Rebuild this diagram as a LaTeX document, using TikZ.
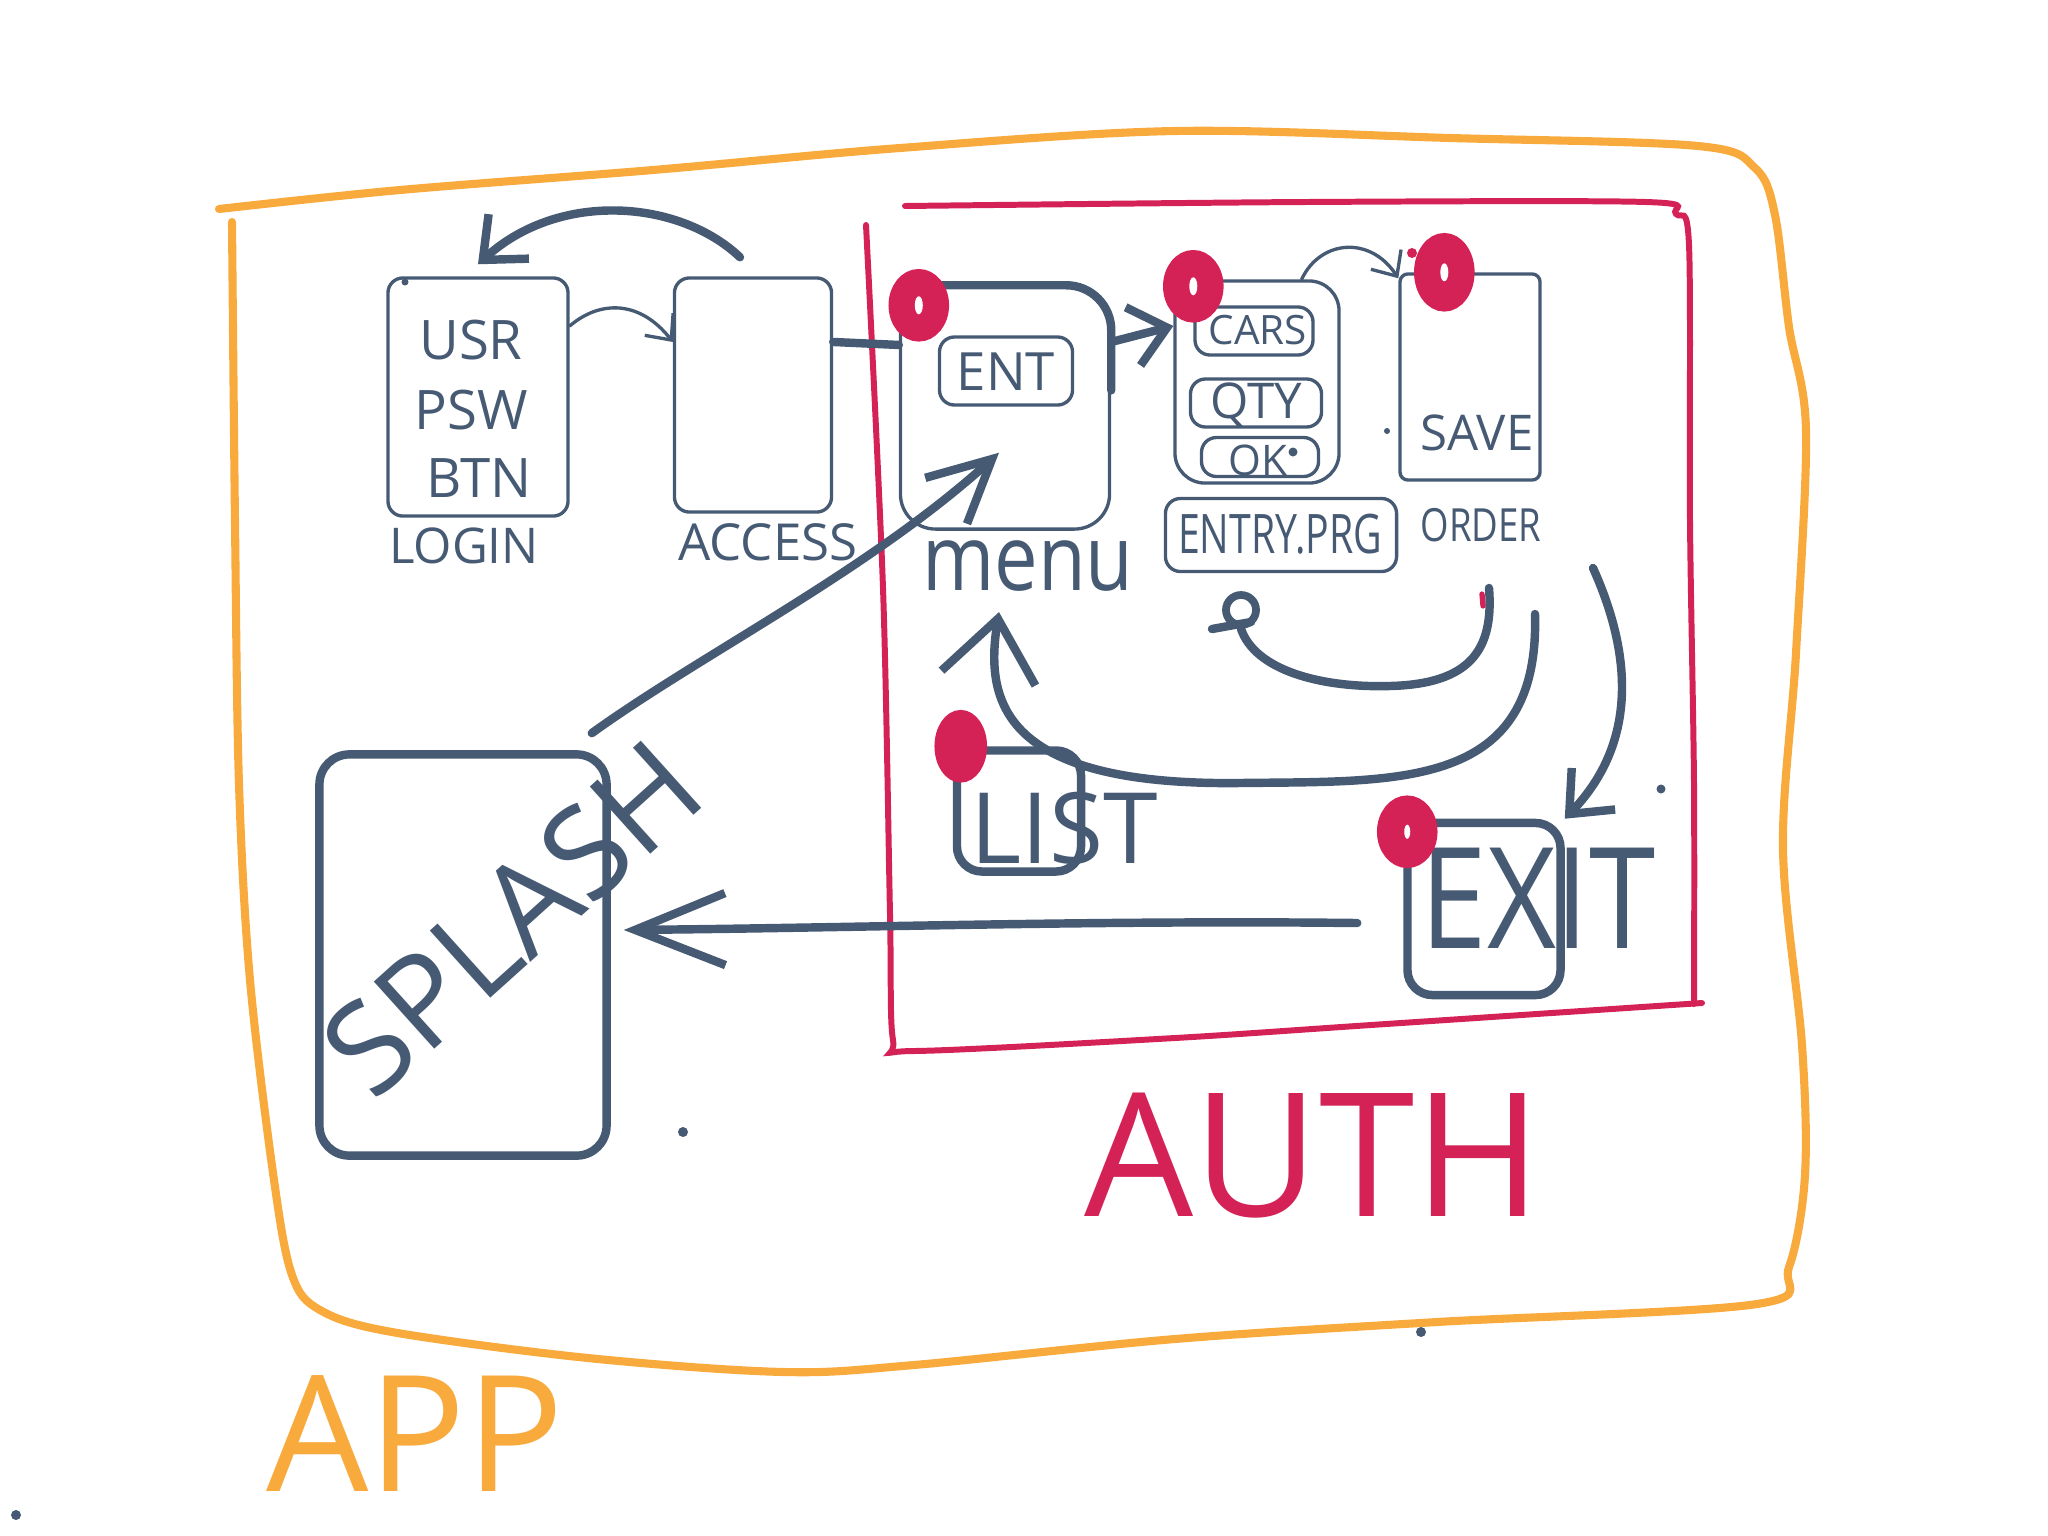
\documentclass[tikz,border=0pt]{standalone}
\usepackage{fontspec}
\setmainfont{Open Sans}
\usetikzlibrary{arrows.meta,shapes.geometric}
\definecolor{ink}{HTML}{465A74}
\definecolor{authred}{HTML}{D42257}
\definecolor{apporange}{HTML}{F8AA3C}
\newcommand\skfs[1]{\fontsize{#1}{#1}\selectfont}
\begin{document}
\begin{tikzpicture}[x=0.01cm,y=-0.01cm,
  thinbox/.style={draw=ink, line width=0.95pt, rounded corners=0.15cm, inner sep=0pt},
  thickbox/.style={draw=ink, line width=2.4pt, rounded corners=0.25cm, inner sep=0pt},
  lbl/.style={text=ink, inner sep=0pt},
  thinline/.style={draw=ink, line width=0.95pt, line cap=round},
  thickline/.style={draw=ink, line width=2.4pt, line cap=round},
  thinarrow/.style={thinline, -{Straight Barb[length=0.2cm,width=0.36cm]}},
  thickarrow/.style={thickline, -{Straight Barb[length=0.35cm,width=0.6cm]}},
  bigarrow/.style={thickline, -{Straight Barb[length=0.6cm,width=0.95cm]}},
  longarrow/.style={thickline, -{Straight Barb[length=0.9cm,width=0.72cm]}},
  midarrow/.style={thickline, -{Straight Barb[length=0.62cm,width=0.62cm]}},
  marker/.style={ellipse, draw=authred, fill=authred, line width=3pt, minimum width=0.5cm, minimum height=0.62cm, inner sep=0pt},
  dot/.style={fill=ink}
]
\useasboundingbox (0,0) rectangle (2048,1536);

% APP frame
\draw[apporange, line width=2.3pt, line cap=round, line join=round] plot[smooth, tension=0.55] coordinates {(219,209) (400,190) (653,170) (900,148) (1175,131) (1450,138) (1698,146) (1755,168) (1775,215) (1789,327) (1806,431) (1796,653) (1783,849) (1802,1045) (1805,1175) (1789,1267) (1757,1304) (1437,1322) (1175,1339) (914,1365) (784,1372) (588,1358) (392,1332) (320,1310) (292,1275) (274,1180) (250,980) (239,784) (235,522) (232,222)};
\node[text=apporange, inner sep=0pt, font=\skfs{46}] (applbl) at (415,1434) {APP};

% AUTH frame
\draw[authred, line width=1.7pt, line cap=round] plot[smooth, tension=0.5] coordinates {(905,206) (1306,202) (1646,202) (1676,214) (1689,245) (1690,522) (1694,784) (1694,1004)};
\draw[authred, line width=1.7pt, line cap=round] plot[smooth, tension=0.5] coordinates {(1702,1003) (1371,1025) (1175,1038) (914,1051) (893,1040) (890,914) (883,588) (866,225)};
\node[text=authred, inner sep=0pt, font=\skfs{49}] (authlbl) at (1313,1156) {AUTH};

% LOGIN
\node[thinbox, minimum width=1.80cm, minimum height=2.38cm] (login) at (478,397) {};
\node[lbl, font=\skfs{15.5}] (usr) at (471,340) {USR};
\node[lbl, font=\skfs{15.5}] (psw) at (471,410) {PSW};
\node[lbl, font=\skfs{15.5}] (btn) at (479,478) {BTN};
\node[lbl, font=\skfs{14}] (loginlbl) at (464,546) {LOGIN};

% ACCESS
\node[thinbox, minimum width=1.57cm, minimum height=2.34cm] (access) at (753,395) {};
\node[lbl, font=\skfs{14.5}] (accesslbl) at (768,542) {ACCESS};

% MENU
\node[thinbox, rounded corners=0.35cm, minimum width=2.09cm, minimum height=2.42cm] (menu) at (1005,408) {};
\draw[thickline, rounded corners=0.45cm] ([xshift=0.15cm]menu.north west) -- (menu.north east) -- ([yshift=-1.05cm]menu.north east);
\node[thinbox, minimum width=1.33cm, minimum height=0.68cm] (ent) at (1006,371) {};
\node[lbl, font=\skfs{15}] (enttxt) at (1006,372) {ENT};
\node[lbl, font=\skfs{26}] (menulbl) at (1028,566) {\scalebox{0.85}[1]{menu}};

% ENTRY.PRG
\node[thinbox, rounded corners=0.3cm, minimum width=1.64cm, minimum height=2.02cm] (entry) at (1257,382) {};
\node[thinbox, minimum width=1.18cm, minimum height=0.48cm] (cars) at (1254,331) {};
\node[lbl, font=\skfs{11.5}] (carstxt) at (1258,330) {CARS};
\node[thinbox, minimum width=1.31cm, minimum height=0.48cm] (qty) at (1256,403) {};
\node[lbl, font=\skfs{14}] (qtytxt) at (1256,405) {QTY};
\node[thinbox, minimum width=1.17cm, minimum height=0.39cm] (ok) at (1260,457) {};
\node[lbl, font=\skfs{12}] (oktxt) at (1258,460) {OK};
\fill[dot] (1293,452) circle (0.045cm);
\node[thinbox, minimum width=2.31cm, minimum height=0.73cm] (entrylbl) at (1281,535) {};
\node[lbl, font=\skfs{15.5}] (entrytxt) at (1280,534) {\scalebox{0.72}[1]{ENTRY.PRG}};

% ORDER
\node[thinbox, rounded corners=0.08cm, minimum width=1.40cm, minimum height=2.06cm] (order) at (1470,377) {};
\node[lbl, font=\skfs{14}] (savetxt) at (1477,433) {SAVE};
\node[lbl, font=\skfs{13}] (orderlbl) at (1481,525) {\scalebox{0.8}[1]{ORDER}};

% LIST
\node[thickbox, minimum width=1.24cm, minimum height=1.21cm] (list) at (1019,811) {};
\node[lbl, font=\skfs{28}] (listtxt) at (1064,828) {LIST};

% EXIT
\node[thickbox, minimum width=1.53cm, minimum height=1.72cm] (exit) at (1484,909) {};
\node[lbl, font=\skfs{40}] (exittxt) at (1538,898) {\scalebox{0.85}[1]{EXIT}};

% SPLASH
\node[thickbox, rounded corners=0.3cm, minimum width=2.87cm, minimum height=4.01cm] (splash) at (463,955) {};
\node[lbl, font=\skfs{36}, rotate=42] (splashtxt) at (512,918) {SPLASH};

% red markers
\node[marker] (m1) at ([xshift=0.2cm,yshift=-0.2cm]menu.north west) {};
\node[marker] (m2) at ([xshift=0.2cm,yshift=-0.07cm]entry.north west) {};
\node[marker, minimum height=0.68cm] (m3) at ([xshift=0.46cm,yshift=0.0cm]order.north west) {};
\node[marker, minimum width=0.42cm] (m4) at ([xshift=0.08cm,yshift=0.0cm]list.north west) {};
\node[marker] (m5) at ([xshift=0.04cm,yshift=-0.13cm]exit.north west) {};
\fill[white] (m1.center) ellipse (0.04cm and 0.09cm);
\fill[white] (m2.center) ellipse (0.04cm and 0.09cm);
\fill[white] (m3.center) ellipse (0.04cm and 0.09cm);
\fill[white] (m5.center) ellipse (0.03cm and 0.07cm);

% connectors
\draw[thinarrow] ([yshift=0.71cm]login.east) .. controls (600,300) and (640,300) .. ([yshift=0.53cm]access.west);
\draw[thickarrow] ([xshift=-0.13cm,yshift=0.19cm]access.north) .. controls (680,200) and (560,190) .. ([yshift=0.12cm]login.north);
\draw[thickline] ([yshift=0.53cm]access.east) -- ([yshift=0.63cm]menu.west);
\draw[thickarrow] ([yshift=0.66cm]menu.east) -- ([yshift=0.56cm]entry.west);
\draw[thinarrow] ([xshift=-0.39cm]entry.north east) .. controls (1320,240) and (1370,235) .. ([yshift=-0.06cm]order.north west);
\draw[midarrow] ([xshift=-0.19cm,yshift=0.17cm]splash.north east) .. controls (700,655) and (870,570) .. ([xshift=-0.07cm,yshift=-0.46cm]ent.south);
\draw[longarrow] ([xshift=-0.46cm,yshift=-0.14cm]exit.west) .. controls (1100,920) and (850,928) .. ([xshift=0.13cm,yshift=0.25cm]splash.east);

\coordinate (ordfrom) at (1535,614);
\draw[bigarrow] (ordfrom) .. controls (1540,790) and (1400,781) .. (1240,783) .. controls (1000,786) and (985,700) .. ([xshift=-0.29cm,yshift=-0.2cm]menulbl.south);

\node[circle, draw=ink, line width=2.2pt, minimum size=0.3cm, inner sep=0pt] (loop) at (1241,610) {};
\draw[thickline] (1212,629) -- (1251,622);
\coordinate (ordhook) at (1489,588);
\draw[thickline] (loop.south) .. controls (1255,670) and (1320,688) .. (1390,686) .. controls (1470,684) and (1494,650) .. (ordhook);
\draw[authred, line width=1.5pt, line cap=round] (1482,594) -- (1483,606);

\coordinate (exitfrom) at (1593,568);
\draw[thickarrow] (exitfrom) .. controls (1630,650) and (1640,740) .. (exit.north east);

% stray dots
\fill[dot] (683,1132) circle (0.05cm);
\fill[dot] (1421,1332) circle (0.05cm);
\fill[dot] (16,1515) circle (0.05cm);
\fill[dot] (1661,789) circle (0.045cm);
\fill[dot] (1387,431) circle (0.03cm);
\fill[dot] (405,282) circle (0.035cm);
\fill[authred] (1412,253) circle (0.05cm);
\end{tikzpicture}
\end{document}
